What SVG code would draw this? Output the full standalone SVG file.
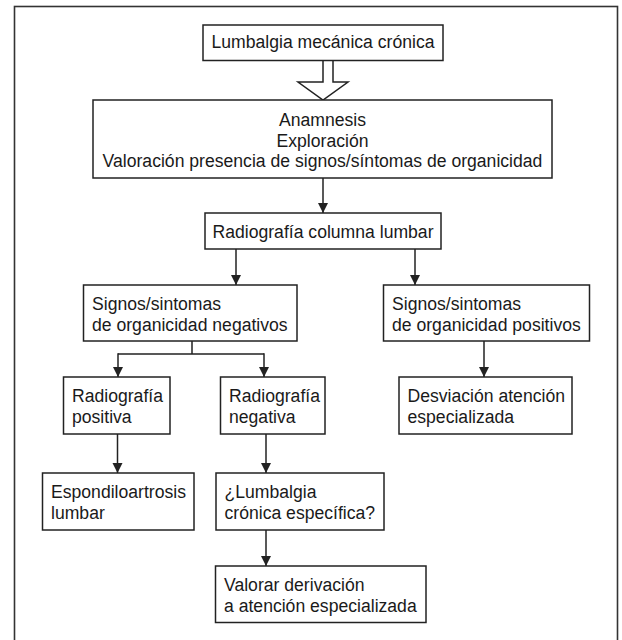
<svg xmlns="http://www.w3.org/2000/svg" width="622" height="640" viewBox="0 0 622 640">
<defs>
<style>
.box{fill:#fff;stroke:#222;stroke-width:1.5}
.t{font-family:"Liberation Sans",Arial,sans-serif;font-size:17.6px;fill:#1a1a1a}
.c{text-anchor:middle}
.ln{stroke:#222;stroke-width:1.5;fill:none}
</style>
<marker id="ah" viewBox="0 0 10 12" refX="10" refY="6" markerWidth="10" markerHeight="12" markerUnits="userSpaceOnUse" orient="auto">
<path d="M0,1 L10,6 L0,11 Z" fill="#222"/>
</marker>
</defs>
<rect width="622" height="640" fill="#fff"/>
<rect x="14.5" y="6.5" width="603" height="650" fill="none" stroke="#333" stroke-width="1.6"/>

<g id="connectors">
<path class="ln" d="M323,60.5 V82 H298 L323,100 L348,82 H333 V60.5"/>
<line class="ln" x1="323" y1="178" x2="323" y2="213" marker-end="url(#ah)"/>
<line class="ln" x1="236" y1="249" x2="236" y2="285" marker-end="url(#ah)"/>
<line class="ln" x1="415" y1="249" x2="415" y2="285" marker-end="url(#ah)"/>
<path class="ln" d="M192,341 V354 M118,354 H264"/>
<line class="ln" x1="118" y1="353.3" x2="118" y2="377" marker-end="url(#ah)"/>
<line class="ln" x1="264" y1="353.3" x2="264" y2="377" marker-end="url(#ah)"/>
<line class="ln" x1="484" y1="341" x2="484" y2="377" marker-end="url(#ah)"/>
<line class="ln" x1="117.5" y1="434" x2="117.5" y2="473" marker-end="url(#ah)"/>
<line class="ln" x1="266" y1="434" x2="266" y2="473" marker-end="url(#ah)"/>
<line class="ln" x1="266" y1="530" x2="266" y2="566" marker-end="url(#ah)"/>
</g>

<g id="n1">
<rect class="box" x="203" y="25" width="240" height="35.5"/>
<text class="t c" x="323" y="48">Lumbalgia mecánica crónica</text>
</g>
<g id="n2">
<rect class="box" x="93" y="100" width="459" height="78"/>
<text class="t c" x="322.5" y="126">Anamnesis</text>
<text class="t c" x="322.5" y="146.5">Exploración</text>
<text class="t c" x="322.5" y="167">Valoración presencia de signos/síntomas de organicidad</text>
</g>
<g id="n3">
<rect class="box" x="205" y="213" width="236" height="36"/>
<text class="t c" x="323" y="237.5">Radiografía columna lumbar</text>
</g>
<g id="n4">
<rect class="box" x="83.5" y="285" width="213.5" height="56"/>
<text class="t" x="92" y="310">Signos/sintomas</text>
<text class="t" x="92" y="331">de organicidad negativos</text>
</g>
<g id="n5">
<rect class="box" x="383.5" y="285" width="206" height="56"/>
<text class="t" x="392" y="310">Signos/sintomas</text>
<text class="t" x="392" y="331">de organicidad positivos</text>
</g>
<g id="n6">
<rect class="box" x="63.5" y="377" width="106.5" height="57"/>
<text class="t" x="72" y="402">Radiografía</text>
<text class="t" x="72" y="423">positiva</text>
</g>
<g id="n7">
<rect class="box" x="220.5" y="377" width="104.5" height="57"/>
<text class="t" x="229" y="402">Radiografía</text>
<text class="t" x="229" y="423">negativa</text>
</g>
<g id="n8">
<rect class="box" x="399" y="377" width="173" height="57"/>
<text class="t" x="407.5" y="402">Desviación atención</text>
<text class="t" x="407.5" y="423">especializada</text>
</g>
<g id="n9">
<rect class="box" x="42.5" y="473" width="151.5" height="57"/>
<text class="t" x="51" y="498">Espondiloartrosis</text>
<text class="t" x="51" y="519">lumbar</text>
</g>
<g id="n10">
<rect class="box" x="216" y="473" width="168" height="57"/>
<text class="t" x="224.5" y="498">¿Lumbalgia</text>
<text class="t" x="224.5" y="519">crónica específica?</text>
</g>
<g id="n11">
<rect class="box" x="215.5" y="566" width="210.5" height="56.5"/>
<text class="t" x="224" y="591">Valorar derivación</text>
<text class="t" x="224" y="612">a atención especializada</text>
</g>
</svg>
